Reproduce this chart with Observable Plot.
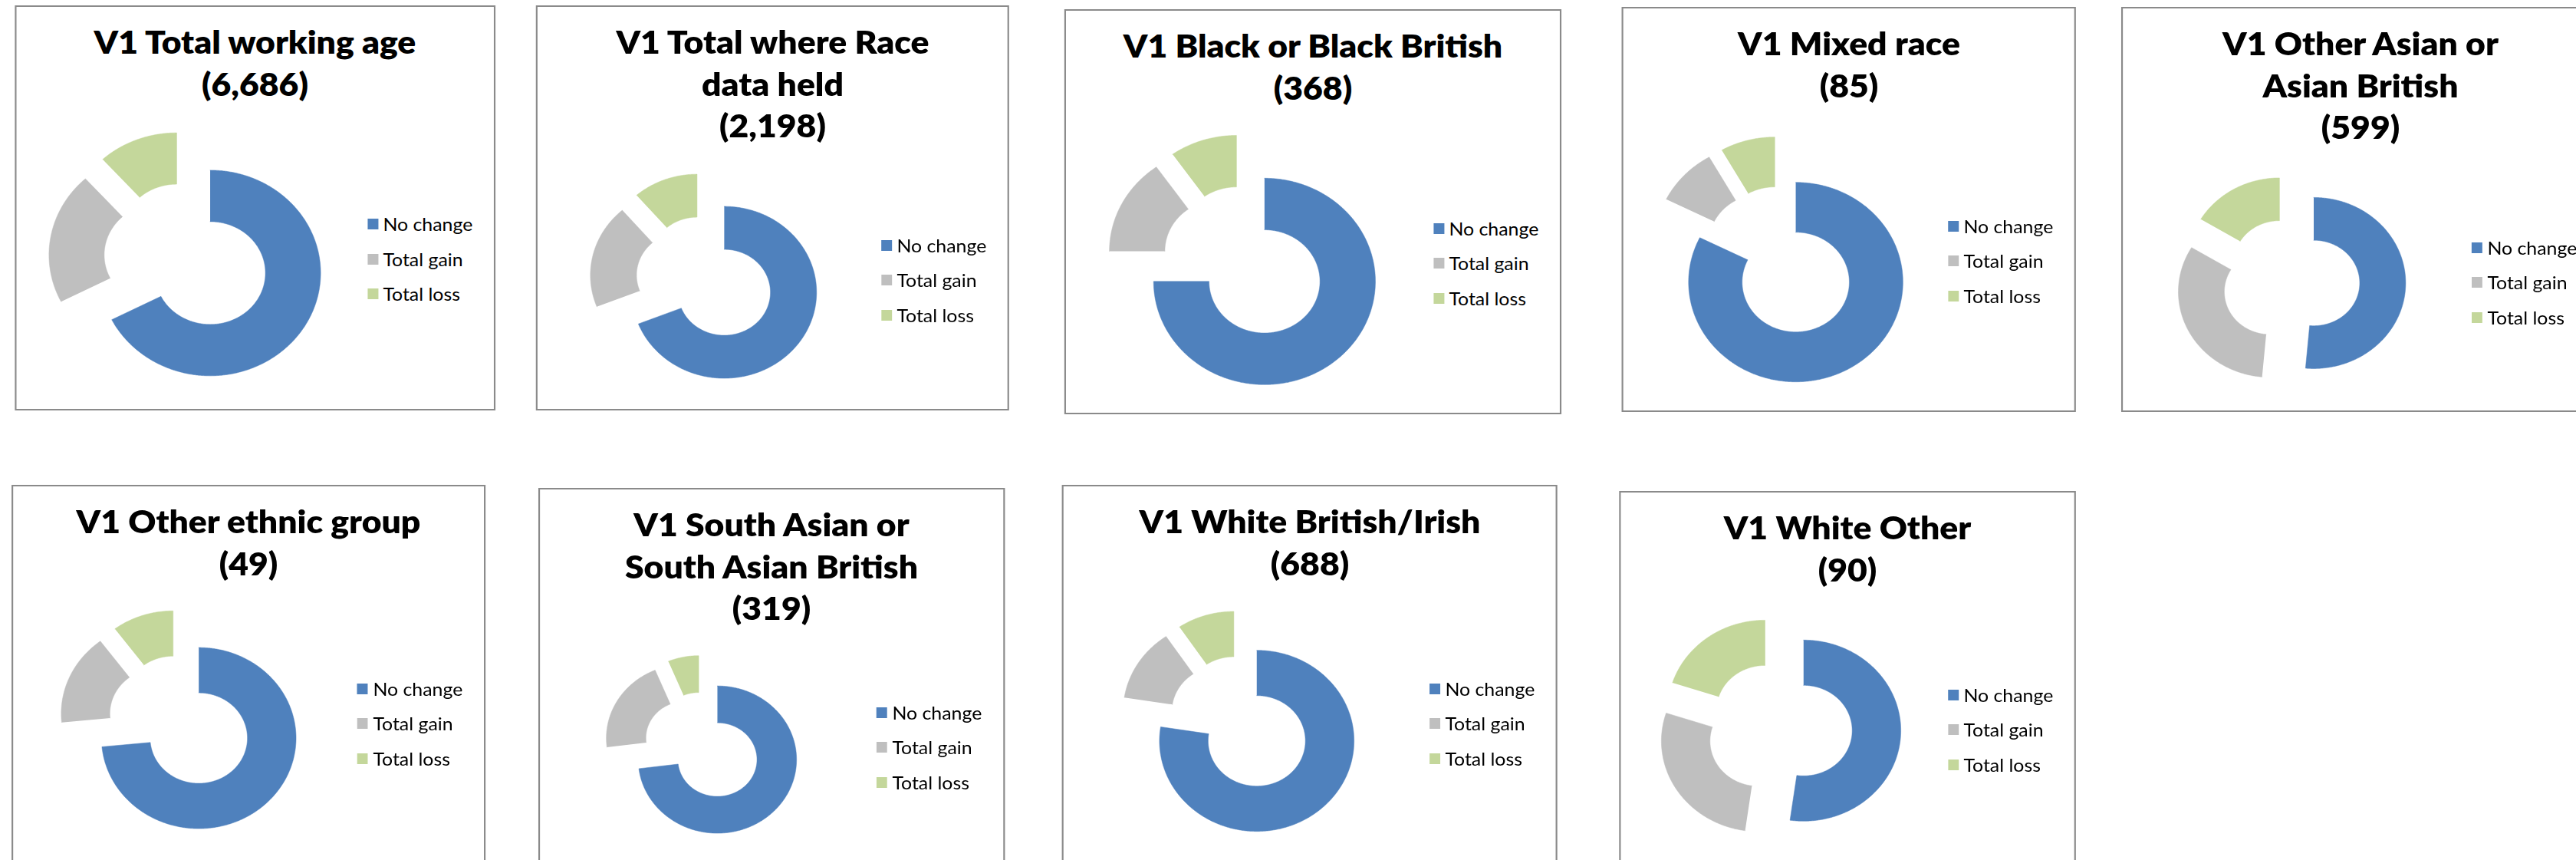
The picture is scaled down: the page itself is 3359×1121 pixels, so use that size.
<!DOCTYPE html>
<html>
<head>
<meta charset="utf-8">
<script src="https://cdn.jsdelivr.net/npm/d3@7"></script>
<script src="https://cdn.jsdelivr.net/npm/@observablehq/plot@0.6"></script>
<style>
html, body { margin: 0; padding: 0; background: #fff; overflow: hidden; width: 3359px; height: 1121px; }
#stage { position: absolute; left: 0; top: 0; width: 3400px; height: 1121px; transform: scaleX(1.075); transform-origin: 0 0; }
.panel { position: absolute; box-sizing: border-box; border: 2px solid #8a8a8a; background: #fff; }
.title { position: absolute; text-align: center; font-family: Lato, "Open Sans", sans-serif; font-weight: 800; color: #000; white-space: pre; }
.donut { position: absolute; }
.legend { position: absolute; }
div.lg-swatches-columns div.lg-swatch { height: 45.5px; padding-bottom: 0; }
div.lg-swatches-columns div.lg-swatch > svg { margin-right: 6px; }
div.lg-swatches-columns div.lg-swatch-label { overflow: visible; }
</style>
</head>
<body>
<div id="stage"></div>
<script>
// ---------- data ----------
const categories = ["No change", "Total gain", "Total loss"];
const colors = ["#4F81BD", "#BFBFBF", "#C4D79B"];
const titles = [
  "V1 Total working age",
  "V1 Total where Race\ndata held",
  "V1 Black or Black British",
  "V1 Mixed race",
  "V1 Other Asian or\nAsian British",
  "V1 Other ethnic group",
  "V1 South Asian or\nSouth Asian British",
  "V1 White British/Irish",
  "V1 White Other"
];
const totals    = [6686, 2198, 368, 85, 599, 49, 319, 688, 90];
const noChange  = [4513, 1517, 276, 70, 308, 36, 233, 533, 47];
const totalGain = [1391,  431,  56,  8, 193,  8,  66,  90, 25];
const totalLoss = [ 782,  250,  36,  7,  98,  5,  20,  65, 18];

// ---------- layout (page pixels) ----------
const SX = 1.075;                 // horizontal stretch of the reference picture
const boxes = [                   // x, y, w, h of each chart frame
  [20, 8, 625, 526], [700, 8, 615, 526], [1389, 13, 646, 526], [2116, 10, 590, 526], [2767, 10, 622, 526],
  [16, 633, 616, 526], [703, 637, 606, 526], [1386, 633, 644, 526], [2112, 641, 594, 526]
];
const donutPos = [                // x of first slice's start edge, y of its centre, outer radius
  [274, 355, 134], [944, 380.7, 112], [1648, 366.5, 134.5], [2341, 367.7, 130], [3017, 368.5, 111.5],
  [259, 962, 118], [935, 990, 96], [1638, 965.5, 118], [2351, 952, 118]
];
const legendMid = [337.5, 365, 343, 340, 368, 943, 974, 943, 951];
const INNER = 0.5, EXPLODE = 0.25, EXT = 1.32;
const TITLE_LH = 54.5, TITLE_BASE = 62.5, ROW_H = 45.5;

function fitFont(text, weight, family, target) {
  const ctx = document.createElement("canvas").getContext("2d");
  ctx.font = `${weight} 100px ${family}`;
  return 100 * target / ctx.measureText(text).width;
}
const titleSize = fitFont("V1 Total working age", 800, "Lato", 422 / SX);
const legendSize = fitFont("No change", 400, "Lato", 117 / SX);
const mctx = document.createElement("canvas").getContext("2d");
mctx.font = `800 ${titleSize}px Lato`;
const mm = mctx.measureText("Hg");
const asc = mm.fontBoundingBoxAscent, desc = mm.fontBoundingBoxDescent;
const baseOff = (TITLE_LH - (asc + desc)) / 2 + asc;

const stage = document.getElementById("stage");
const fmt = d3.format(",");

titles.forEach((title, i) => {
  const [bx, by, bw, bh] = boxes[i];
  const panel = document.createElement("div");
  panel.className = "panel";
  Object.assign(panel.style, {left: (bx - 1) / SX + "px", top: (by - 1) + "px", width: (bw + 2) / SX + "px", height: (bh + 2) + "px"});
  stage.append(panel);

  const t = document.createElement("div");
  t.className = "title";
  t.textContent = title + "\n(" + fmt(totals[i]) + ")";
  Object.assign(t.style, {left: bx / SX + "px", width: bw / SX + "px", top: (by + TITLE_BASE - baseOff) + "px",
    fontSize: titleSize + "px", lineHeight: TITLE_LH + "px"});
  stage.append(t);

  // donut slices as filled polygons in unit space
  const vals = [noChange[i], totalGain[i], totalLoss[i]];
  const sum = d3.sum(vals);
  let acc = 0;
  const pts = [];
  vals.forEach((v, k) => {
    const a0 = acc / sum * 2 * Math.PI; acc += v; const a1 = acc / sum * 2 * Math.PI;
    const mid = (a0 + a1) / 2, ox = EXPLODE * Math.sin(mid), oy = EXPLODE * Math.cos(mid);
    const n = Math.max(6, Math.ceil((a1 - a0) / (Math.PI / 360)));
    for (let j = 0; j <= n; j++) { const a = a0 + (a1 - a0) * j / n; pts.push({cat: categories[k], x: ox + Math.sin(a), y: oy + Math.cos(a)}); }
    for (let j = n; j >= 0; j--) { const a = a0 + (a1 - a0) * j / n; pts.push({cat: categories[k], x: ox + INNER * Math.sin(a), y: oy + INNER * Math.cos(a)}); }
  });
  const [ex, ey, R] = donutPos[i];
  const mB = noChange[i] / sum * Math.PI;
  const X0 = ex / SX - R * EXPLODE * Math.sin(mB);
  const Y0 = ey + R * EXPLODE * Math.cos(mB);
  const S = 2 * EXT * R;
  const chart = Plot.plot({
    width: S, height: S, margin: 0,
    x: {domain: [-EXT, EXT], range: [0, S], axis: null},
    y: {domain: [-EXT, EXT], range: [S, 0], axis: null},
    color: {domain: categories, range: colors},
    style: {background: "transparent", overflow: "visible"},
    marks: [
      Plot.line(pts, {x: "x", y: "y", z: "cat", fill: "cat", stroke: "cat", strokeWidth: 0.5, curve: "linear"})
    ]
  });
  chart.classList.add("donut");
  Object.assign(chart.style, {left: (X0 - EXT * R) + "px", top: (Y0 - EXT * R) + "px"});
  stage.append(chart);

  const lg = Plot.legend({
    color: {domain: categories, range: colors},
    legend: "swatches", columns: 1, className: "lg",
    swatchWidth: 14 / SX, swatchHeight: 14,
    style: {fontFamily: "Lato, sans-serif", fontSize: legendSize + "px", color: "#000", margin: "0", width: "max-content"}
  });
  lg.classList.add("legend");
  Object.assign(lg.style, {left: (bx + bw - 166) / SX + "px", top: (legendMid[i] - 1.5 * ROW_H) + "px"});
  stage.append(lg);
});
</script>
</body>
</html>
